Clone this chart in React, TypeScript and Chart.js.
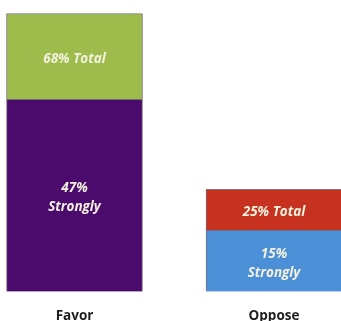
import React, { useEffect, useRef } from "react";
import { Chart, registerables } from "chart.js";

Chart.register(...registerables);

const categories = ["Favor", "Oppose"];
const stronglyValues = [47, 15];
const totalValues = [68, 25];
const stronglyLabels = [["47%", "Strongly"], ["15%", "Strongly"]];
const totalLabels = [["68% Total"], ["25% Total"]];

const stronglyColors = ["#4b0b6c", "#4b8fd7"];
const restColors = ["#9dbc4b", "#c6321f"];

const innerLabelPlugin = {
  id: "innerLabels",
  afterDatasetsDraw(chart: any) {
    const ctx = chart.ctx;
    ctx.save();
    ctx.font = "italic bold 13.5px 'Open Sans'";
    ctx.fillStyle = "#f4f1de";
    ctx.textAlign = "center";
    ctx.textBaseline = "middle";
    chart.data.datasets.forEach((ds: any, di: number) => {
      const meta = chart.getDatasetMeta(di);
      meta.data.forEach((bar: any, i: number) => {
        const lines: string[] = ds.innerLabels[i];
        const cy = (bar.y + bar.base) / 2 + 2.5;
        const lh = 19;
        const start = cy - ((lines.length - 1) * lh) / 2;
        lines.forEach((t, li) => ctx.fillText(t, bar.x, start + li * lh));
      });
    });
    ctx.restore();
  },
};

export default function App() {
  const ref = useRef<HTMLCanvasElement | null>(null);
  useEffect(() => {
    if (!ref.current) return;
    const chart = new Chart(ref.current, {
      type: "bar",
      data: {
        labels: categories,
        datasets: [
          {
            label: "Strongly",
            data: stronglyValues,
            backgroundColor: stronglyColors,
            borderColor: "rgba(40,20,40,0.6)",
            borderWidth: 1,
            barThickness: 136,
            clip: false as any,
            innerLabels: stronglyLabels,
          } as any,
          {
            label: "Total",
            data: totalValues.map((t, i) => t - stronglyValues[i]),
            backgroundColor: restColors,
            borderColor: "rgba(40,20,40,0.6)",
            borderWidth: 1,
            barThickness: 136,
            clip: false as any,
            innerLabels: totalLabels,
          } as any,
        ],
      },
      options: {
        responsive: false,
        animation: false,
        layout: { padding: { left: 74.5, right: 67, top: 13.5, bottom: 0 } },
        plugins: { legend: { display: false }, tooltip: { enabled: false } },
        scales: {
          x: {
            stacked: true,
            offset: false,
            grid: { display: false, drawTicks: false },
            border: { display: false },
            ticks: {
              padding: 17,
              color: "#1e1e1e",
              font: { family: "'Open Sans'", size: 13.5, weight: "bold" },
            },
            afterFit(scale: any) {
              scale.height = 321 - 291.5;
            },
          },
          y: {
            stacked: true,
            display: false,
            min: 0,
            max: 68,
          },
        },
      },
      plugins: [innerLabelPlugin],
    });
    return () => chart.destroy();
  }, []);
  return (
    <div style={{ position: "fixed", left: 0, top: 0, width: 341, height: 321, background: "#fff" }}>
      <canvas ref={ref} width={341} height={321} style={{ display: "block" }} />
    </div>
  );
}
